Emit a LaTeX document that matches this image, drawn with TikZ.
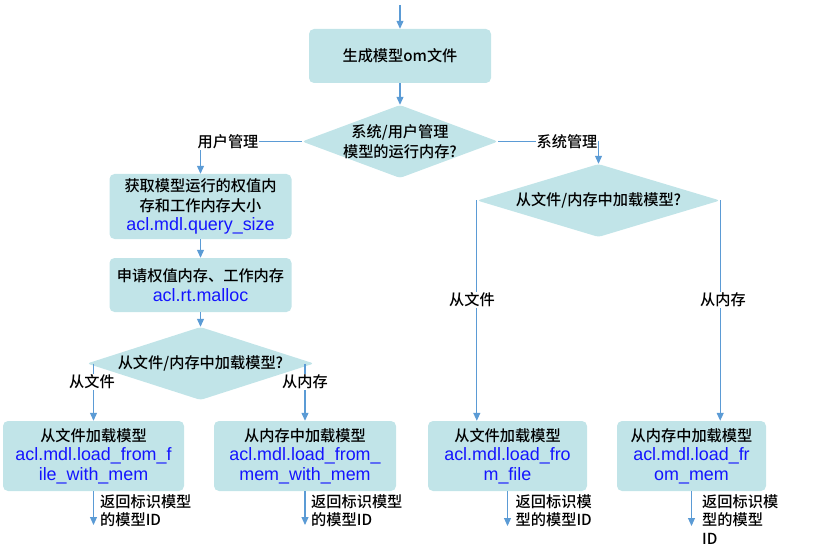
\documentclass[tikz,border=0pt]{standalone}
\usepackage{fontspec}
\setmainfont{Noto Sans CJK SC}[UprightFont={* Medium}]
\newfontfamily\latinsf{Liberation Sans}
\usetikzlibrary{arrows.meta,shapes.geometric}
\definecolor{boxfill}{RGB}{193,228,232}
\definecolor{linec}{RGB}{91,155,213}
\definecolor{apiblue}{RGB}{20,20,255}
\newcommand\api[1]{{\latinsf\fontsize{17.9}{19.5}\selectfont\color{apiblue}#1}}

\begin{document}
\begin{tikzpicture}[x=1pt,y=1pt]
\tikzstyle{every node}+=[inner sep=0pt, font=\fontsize{15.2}{19.5}\selectfont]
\tikzstyle{box}=[fill=boxfill, rounded corners=5pt, align=center]
\tikzstyle{dia}=[diamond, fill=boxfill, rounded corners=3pt]
\tikzstyle{arr}=[draw=linec, line width=1.1pt, -{Triangle[length=8pt,width=7pt]}]
\tikzstyle{lbl}=[fill=white, inner sep=1pt]
\tikzstyle{ret}=[anchor=north west, align=left, font=\fontsize{15.2}{18.5}\selectfont]
\useasboundingbox (0,0) rectangle (818,-553);
\node[box, minimum width=182pt, minimum height=54pt] (b1) at (400,-56) {生成模型om文件};
\node[dia, minimum width=196pt, minimum height=73pt,
  label={[align=center]center:系统/用户管理\\模型的运行内存?}] (d1) at (400,-141.5) {};
\node[box, minimum width=182pt, minimum height=65pt] (b2) at (200.5,-206.5)
  {获取模型运行的权值内\\存和工作内存大小\\\api{acl.mdl.query\_size}};
\node[box, minimum width=182pt, minimum height=54pt] (b3) at (200.5,-285)
  {申请权值内存、工作内存\\\api{acl.rt.malloc}};
\node[dia, minimum width=227pt, minimum height=73pt,
  label={center:从文件/内存中加载模型?}] (d3) at (200.5,-363.5) {};
\node[box, minimum width=181pt, minimum height=70pt] (b4) at (93.5,-456)
  {从文件加载模型\\\api{acl.mdl.load\_from\_f}\\\api{ile\_with\_mem}};
\node[box, minimum width=182pt, minimum height=70pt] (b5) at (305,-456)
  {从内存中加载模型\\\api{acl.mdl.load\_from\_}\\\api{mem\_with\_mem}};
\node[dia, minimum width=243pt, minimum height=73pt,
  label={center:从文件/内存中加载模型?}] (d2) at (598.5,-200.5) {};
\node[box, minimum width=159pt, minimum height=70pt] (b6) at (507.5,-456)
  {从文件加载模型\\\api{acl.mdl.load\_fro}\\\api{m\_file}};
\node[box, minimum width=149pt, minimum height=70pt] (b7) at (691.5,-456)
  {从内存中加载模型\\\api{acl.mdl.load\_fr}\\\api{om\_mem}};
\coordinate (in) at (400,-5);
\coordinate (e4) at (93.5,-525);
\coordinate (e5) at (305,-525);
\coordinate (e6) at (507.5,-526);
\coordinate (e7) at (691.5,-526);
\draw[arr] (in) -- (b1);
\draw[arr] (b1) -- (d1);
\draw[arr] (d1.west) -| (b2.north);
\draw[arr] (d1.east) -| (d2.north);
\draw[arr] (b2) -- (b3);
\draw[arr] (b3) -- (d3);
\draw[arr] (b4.north |- d3.west) -- (b4.north);
\draw[arr] (b5.north |- d3.east) -- (b5.north);
\draw[arr] (d2.west) -- (d2.west |- b6.north);
\draw[arr] (d2.east) -- (d2.east |- b7.north);
\draw[arr] (b4) -- (e4);
\draw[arr] (b5) -- (e5);
\draw[arr] (b6) -- (e6);
\draw[arr] (b7) -- (e7);
\node[lbl] (l1) at (228,-142) {用户管理};
\node[lbl] (l2) at (567,-142) {系统管理};
\node[lbl] (l3) at (92,-382) {从文件};
\node[lbl] (l4) at (305,-382) {从内存};
\node[lbl] (l5) at (472,-300) {从文件};
\node[lbl] (l6) at (723,-300) {从内存};
\node[ret] (t4) at (100,-494) {返回标识模型\\的模型ID};
\node[ret] (t5) at (311,-494) {返回标识模型\\的模型ID};
\node[ret] (t6) at (515.5,-494) {返回标识模\\型的模型ID};
\node[ret] (t7) at (702,-494) {返回标识模\\型的模型\\ID};
\end{tikzpicture}
\end{document}
